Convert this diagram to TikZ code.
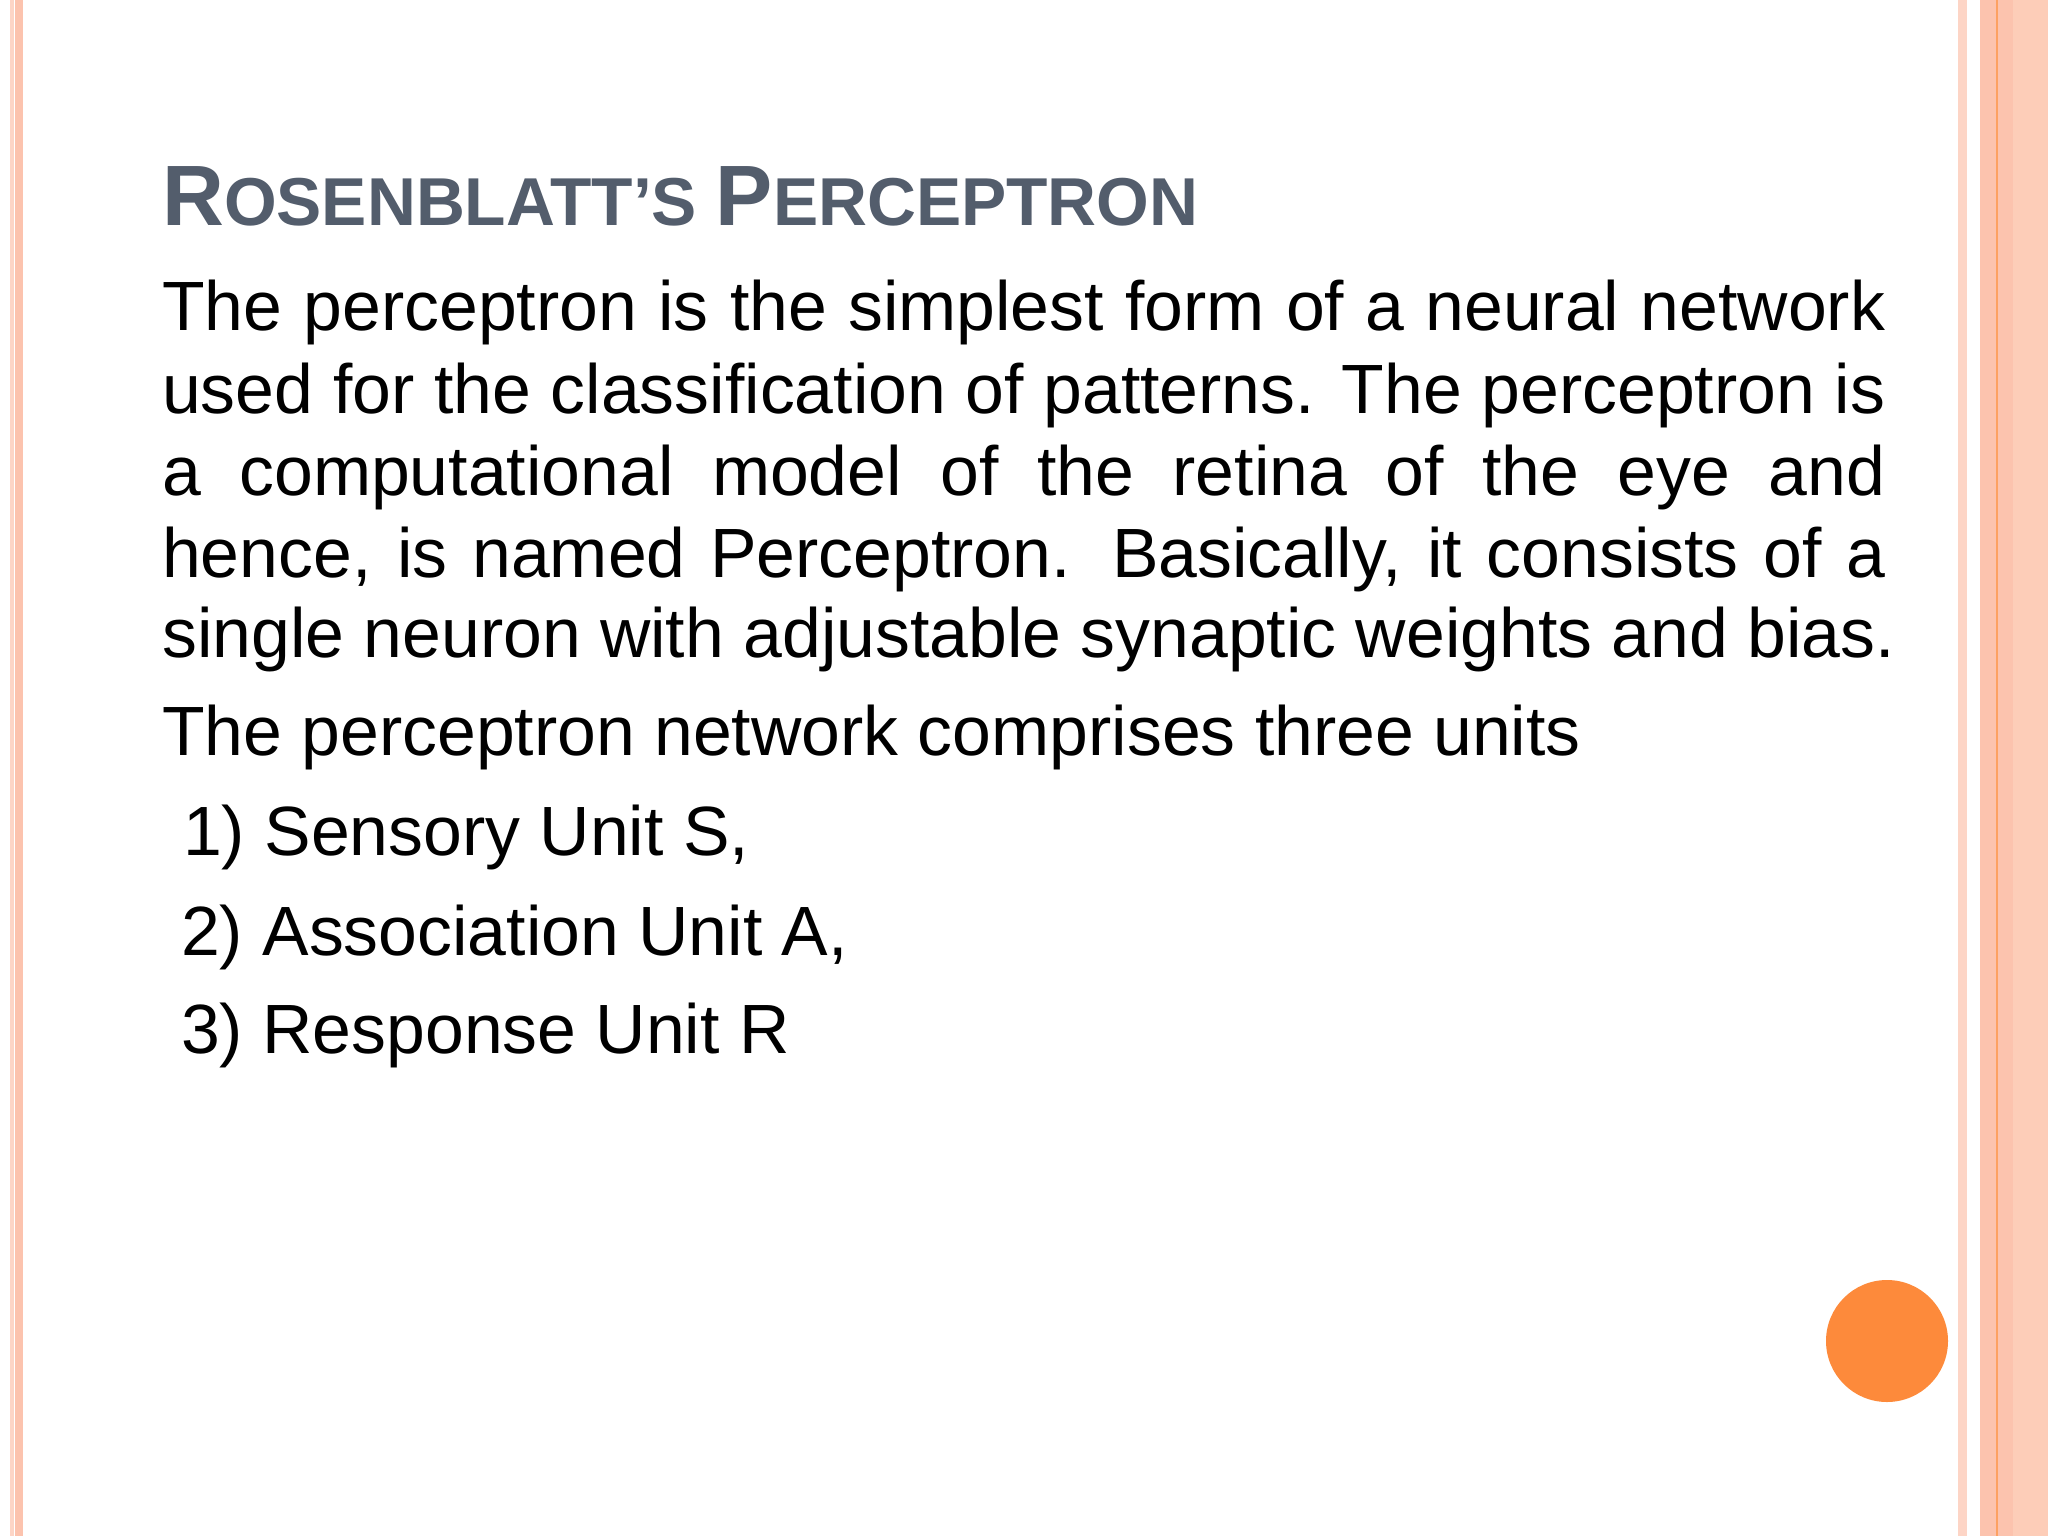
\documentclass[tikz,border=0pt]{standalone}
\usepackage{fontspec}
\setmainfont{Liberation Sans}
\definecolor{peach}{HTML}{FCC3AE}
\definecolor{pale}{HTML}{FDD5C6}
\definecolor{lite}{HTML}{FDCDB8}
\definecolor{orng}{HTML}{FD8A3B}
\definecolor{ttl}{HTML}{535D6C}
\begin{document}
\begin{tikzpicture}[x=1bp,y=-1bp,
  body/.style={anchor=base west,inner sep=0pt,font=\fontsize{70}{82}\selectfont},
  stripe/.style={draw=none}]
\useasboundingbox (0,0) rectangle (2048,1536);
\fill[white] (0,0) rectangle (2048,1536);
% left stripes
\fill[pale] (10,0) rectangle (14,1536);
\fill[peach] (15,0) rectangle (23,1536);
% right stripes
\fill[pale] (1958,0) rectangle (1967,1536);
\fill[peach] (1980,0) rectangle (2013,1536);
\fill[orng!80] (1996,0) rectangle (1998,1536);
\fill[lite] (2013,0) rectangle (2048,1536);
% title
\node (title) [anchor=base west,inner sep=0pt,text=ttl,font=\bfseries] at (162,225)
 {\fontsize{86}{86}\selectfont R\fontsize{68}{68}\selectfont OSENBLATT’S \fontsize{86}{86}\selectfont P\fontsize{68}{68}\selectfont ERCEPTRON};
\node (l1) [body] at (162,330) {\makebox[1723bp][s]{The perceptron is the simplest form of a neural network}};
\node (l2) [body] at (162,413) {\makebox[1723bp][s]{used for the classification of patterns. The perceptron is}};
\node (l3) [body] at (162,495) {\makebox[1723bp][s]{a computational model of the retina of the eye and}};
\node (l4) [body] at (162,577) {\makebox[1723bp][s]{hence, is named Perceptron. Basically, it consists of a}};
\node (l5) [body] at (162,657) {single neuron with adjustable synaptic weights and bias.};
\node (l6) [body] at (162,755) {The perceptron network comprises three units};
\node (i1) [body] at (183,855) {1) Sensory Unit S,};
\node (i2) [body] at (181,955) {2) Association Unit A,};
\node (i3) [body] at (181,1053) {3) Response Unit R};
\fill[orng] (1887,1341) circle (61);
\end{tikzpicture}
\end{document}
